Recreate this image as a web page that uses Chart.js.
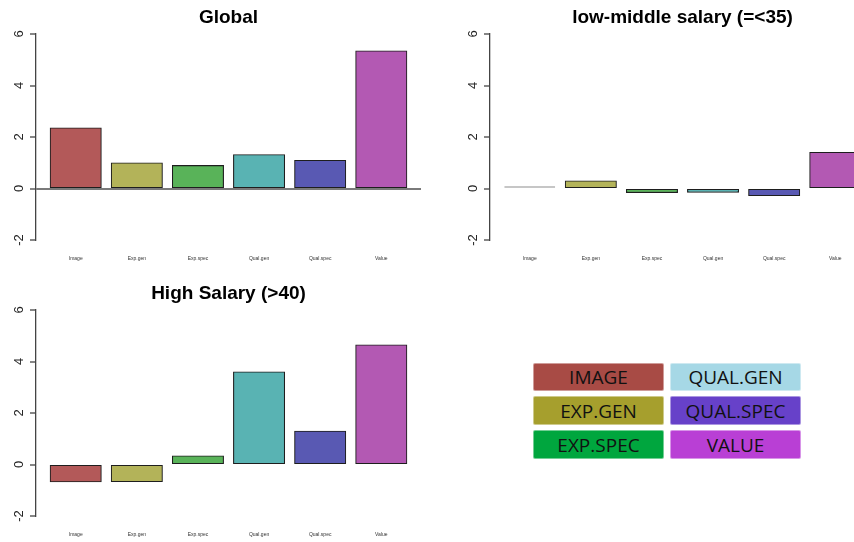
<!DOCTYPE html>
<html>
<head>
<meta charset="utf-8">
<script src="https://cdn.jsdelivr.net/npm/chart.js@4"></script>
<style>
  html, body { margin: 0; padding: 0; width: 854px; height: 542px; overflow: hidden; background: #fff; }
  canvas.panel { position: absolute; }
  .key {
    position: absolute; width: 131px; height: 28.5px; box-sizing: border-box;
    border: 1px solid rgba(255,255,255,0.45); border-radius: 2px;
    display: flex; align-items: center; justify-content: center;
    font: 19px "Open Sans", "Noto Sans", sans-serif; color: #111;
  }
</style>
</head>
<body>
<canvas id="pGlobal" class="panel" width="427" height="271" style="left:0;top:0;width:427px;height:271px"></canvas>
<canvas id="pLow" class="panel" width="427" height="271" style="left:454px;top:0;width:427px;height:271px"></canvas>
<canvas id="pHigh" class="panel" width="427" height="271" style="left:0;top:276px;width:427px;height:271px"></canvas>
<div id="keyBox"></div>
<script>
// ---- data ----
const categories = ['Image', 'Exp.gen', 'Exp.spec', 'Qual.gen', 'Qual.spec', 'Value'];
const globalValues = [2.35, 0.99, 0.89, 1.31, 1.09, 5.34];
const lowMiddleValues = [0.02, 0.29, -0.15, -0.14, -0.27, 1.40];
const highValues = [-0.67, -0.66, 0.33, 3.59, 1.29, 4.64];
const yTickValues = [-2, 0, 2, 4, 6];
const keyLabels = ['IMAGE', 'EXP.GEN', 'EXP.SPEC', 'QUAL.GEN', 'QUAL.SPEC', 'VALUE'];

// ---- styles ----
const barColors = ['#B35959', '#B3B359', '#59B359', '#59B3B3', '#5959B3', '#B359B3'];
const keyColors = ['#A84B45', '#A69F2D', '#00A63E', '#A6D8E6', '#6741C9', '#B93FD5'];
const FONT = '"Liberation Sans", Arial, Helvetica, sans-serif';

// barplot geometry: bars of width 1 with 0.2 gaps, axis range padded by 4%
const SLOT = 1.2;
const X_PAD = (0.5 + 0.2 + 0.08) / SLOT;

function makePanel(id, title, values, zeroLine) {
  return new Chart(document.getElementById(id), {
    type: 'bar',
    data: {
      datasets: [{
        data: values.map((v, i) => ({ x: i, y: v })),
        backgroundColor: barColors,
        borderColor: '#1e1e1e',
        borderWidth: 1.1,
        borderSkipped: false,
        // outline straddles the bar edge; near-zero bars stay a plain dark stroke
        inflateAmount: c => (c.parsed && Math.abs(c.parsed.y) < 0.1) ? 0 : 0.55,
        minBarLength: 2,
        categoryPercentage: 1,
        barPercentage: 1 / SLOT
      }]
    },
    options: {
      responsive: false,
      animation: false,
      devicePixelRatio: 1,
      layout: { padding: { top: 0, right: 6, bottom: 0, left: 0 } },
      plugins: {
        legend: { display: false },
        tooltip: { enabled: false },
        title: {
          display: true, text: title, fullSize: false, color: '#000',
          font: { family: FONT, size: 19, weight: 'bold' },
          padding: { top: 6, bottom: 5.2 }
        }
      },
      scales: {
        x: {
          type: 'linear',
          offset: false,
          min: -X_PAD,
          max: categories.length - 1 + X_PAD,
          afterBuildTicks: s => { s.ticks = categories.map((_, i) => ({ value: i })); },
          afterFit: s => { s.height = 31; },
          grid: { display: false, drawTicks: false, offset: false },
          border: { display: false },
          ticks: {
            autoSkip: false, maxRotation: 0, padding: 16, color: '#333',
            font: { family: FONT, size: 5 },
            callback: v => categories[v]
          }
        },
        y: {
          min: yTickValues[0],
          max: yTickValues[yTickValues.length - 1],
          afterBuildTicks: s => { s.ticks = yTickValues.map(v => ({ value: v })); },
          afterFit: s => { s.width = 36; },
          border: { display: true, color: '#444', width: 1.3 },
          grid: {
            color: c => (zeroLine && c.tick && c.tick.value === 0) ? '#7a7a7a' : 'rgba(0,0,0,0)',
            lineWidth: 2,
            drawTicks: true, tickLength: 6, tickColor: '#444', tickWidth: 1.3
          },
          ticks: {
            color: '#222', font: { family: FONT, size: 13 },
            minRotation: 90, maxRotation: 90, crossAlign: 'center', padding: 5
          }
        }
      }
    }
  });
}

makePanel('pGlobal', 'Global', globalValues, true);
makePanel('pLow', 'low-middle salary (=<35)', lowMiddleValues, false);
makePanel('pHigh', 'High Salary (>40)', highValues, false);

// colour key: two columns of three labelled boxes
const keyBox = document.getElementById('keyBox');
keyLabels.forEach((label, i) => {
  const d = document.createElement('div');
  d.className = 'key';
  d.textContent = label;
  d.style.background = keyColors[i];
  d.style.left = (533 + Math.floor(i / 3) * 137) + 'px';
  d.style.top = (362.5 + (i % 3) * 33.9) + 'px';
  keyBox.appendChild(d);
});
</script>
</body>
</html>
